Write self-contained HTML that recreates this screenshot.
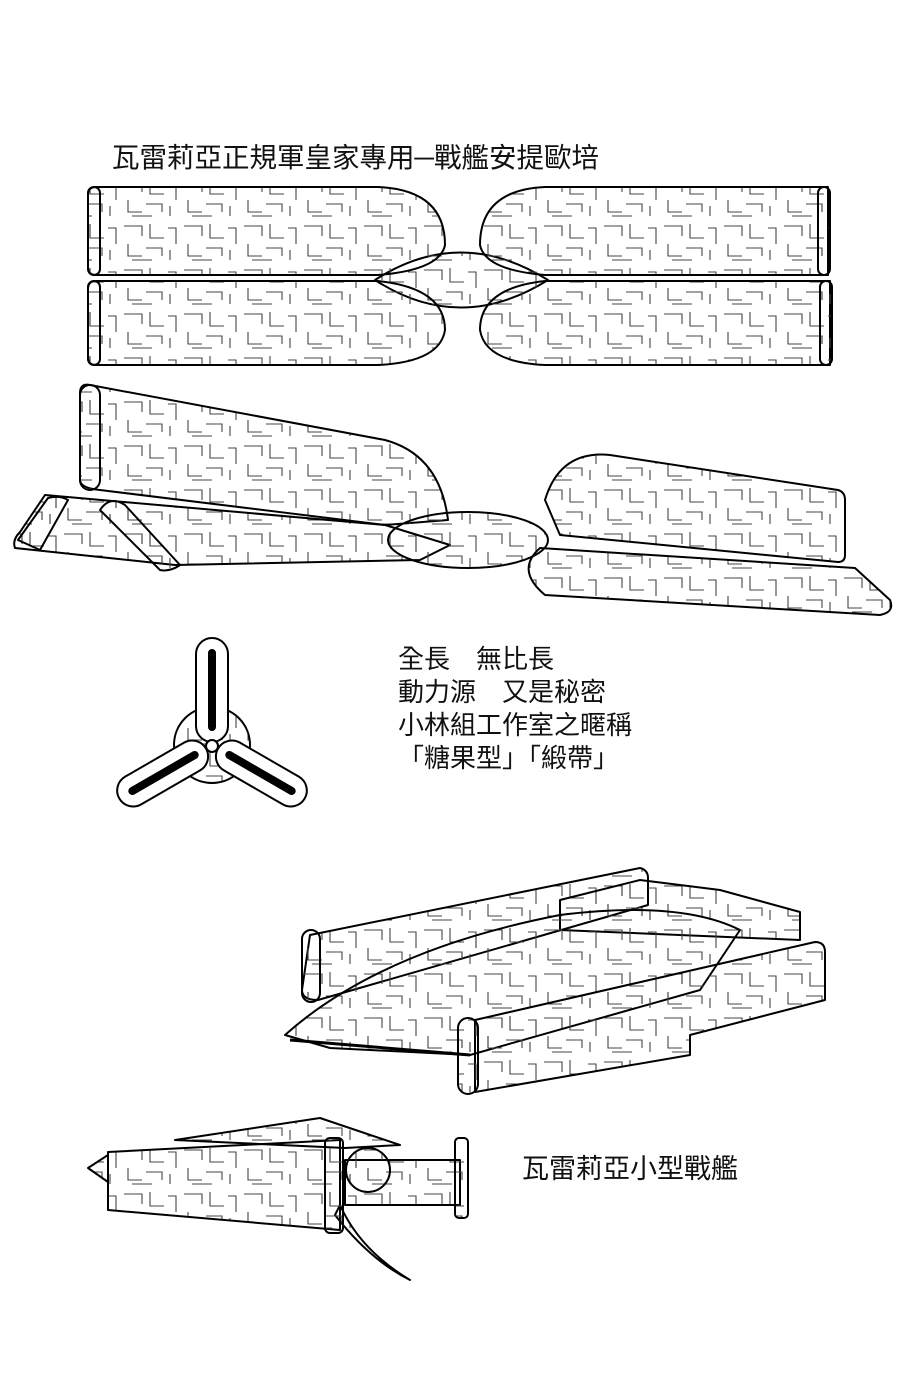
<!DOCTYPE html>
<html><head><meta charset="utf-8"><style>
html,body{margin:0;padding:0;background:#fff;}
body{width:900px;height:1391px;position:relative;overflow:hidden;font-family:"Liberation Sans","Noto Sans CJK TC",sans-serif;}
.t{position:absolute;color:#111;white-space:nowrap;}
</style></head><body>
<svg width="900" height="1391" style="position:absolute;left:0;top:0">
<defs>
<pattern id="tx" width="60" height="44" patternUnits="userSpaceOnUse">
<g stroke="#444" stroke-width="1.1" fill="none">
<path d="M4 6h18v10M30 4v14h12M48 8h8v16M8 24v12h14M26 28h16v8M50 30v10M12 40h20M36 18h8"/>
</g></pattern>
</defs>
<g stroke="#000" stroke-width="2" fill="url(#tx)" stroke-linejoin="round">
<!-- top view -->
<path d="M375 280 Q460 225 548 280 Q460 335 375 280Z"/>
<path d="M96 187 H378 Q445 190 445 245 Q440 270 378 275 H96 Q88 275 88 267 V195 Q88 187 96 187Z"/>
<path d="M828 187 H545 Q480 190 480 245 Q485 270 545 275 H828 Z"/>
<rect x="818" y="187" width="12" height="88" rx="6"/>
<rect x="88" y="187" width="12" height="88" rx="6"/>
<path d="M96 281 H378 Q445 288 445 330 Q440 362 378 365 H96 Q88 365 88 357 V289 Q88 281 96 281Z"/>
<path d="M830 281 H545 Q480 288 480 330 Q485 362 545 365 H830 Z"/>
<rect x="88" y="281" width="12" height="84" rx="6"/>
<rect x="820" y="281" width="12" height="84" rx="6"/>
<!-- perspective view -->
<path d="M90 385 L385 440 Q440 455 448 520 L385 525 L100 490 Q80 488 80 480 V393 Q80 383 90 385Z"/>
<rect x="80" y="385" width="20" height="105" rx="10"/>
<path d="M545 500 Q560 450 610 455 L838 490 Q845 492 845 500 V555 Q845 562 838 562 L560 535 Z"/>
<path d="M45 495 L385 525 L450 545 L420 560 L175 565 L15 548 Q12 540 20 532 Z"/>
<path d="M18 540 L48 498 Q60 495 68 500 L40 550Z"/>
<path d="M100 510 Q110 495 125 505 L180 565 Q170 572 160 570Z"/>
<ellipse cx="468" cy="540" rx="80" ry="28"/>
<path d="M540 548 Q515 570 545 595 L880 615 Q895 612 890 600 L855 568 Z"/>
<!-- tri prop -->
<circle cx="212" cy="745" r="38"/>
<rect x="196" y="638" width="32" height="104" rx="16" fill="#fff"/>
<rect x="209" y="650" width="6" height="80" rx="3" fill="#000"/>
<g transform="rotate(120 212 745)"><rect x="196" y="638" width="32" height="100" rx="16" fill="#fff"/><rect x="209" y="650" width="6" height="78" rx="3" fill="#000"/></g>
<g transform="rotate(240 212 745)"><rect x="196" y="638" width="32" height="100" rx="16" fill="#fff"/><rect x="209" y="650" width="6" height="78" rx="3" fill="#000"/></g>
<circle cx="212" cy="746" r="6" fill="#fff"/>
<!-- ship 3 -->
<path d="M310 935 L640 868 Q648 870 648 878 L648 905 L318 1000 Q302 1000 302 990 Z"/>
<rect x="302" y="930" width="18" height="72" rx="9"/>
<path d="M560 900 L640 880 L720 890 L800 912 L800 940 L560 930Z"/>
<path d="M285 1035 Q380 950 560 915 Q680 900 740 930 L700 990 L470 1055 L330 1048 Z"/>
<path d="M290 1040 L470 1055" stroke-width="3"/>
<path d="M475 1020 L815 942 Q825 942 825 952 V1000 L690 1035 V1055 L475 1092 Z"/>
<rect x="458" y="1018" width="20" height="76" rx="10"/>
<!-- ship 4 -->
<path d="M175 1140 L320 1118 L400 1145 L345 1148Z"/>
<path d="M345 1160 H460 V1205 H345Z"/>
<rect x="455" y="1138" width="13" height="80" rx="4"/>
<circle cx="368" cy="1170" r="22"/>
<path d="M340 1205 Q360 1250 410 1280 Q370 1260 335 1215Z"/>
<path d="M108 1152 L340 1140 V1230 L108 1210 Z"/>
<rect x="325" y="1138" width="18" height="95" rx="5"/>
<path d="M108 1155 L88 1168 L108 1182Z"/>
</g>
</svg>
<div class="t" style="left:112px;top:135px;font-size:27.5px;">瓦雷莉亞正規軍皇家專用─戰艦安提歐培</div>
<div class="t" style="left:398px;top:643px;font-size:26px;line-height:33px;">全長　無比長<br>動力源　又是秘密<br>小林組工作室之暱稱<br>「糖果型」「緞帶」</div>
<div class="t" style="left:522px;top:1147px;font-size:27px;">瓦雷莉亞小型戰艦</div>
</body></html>
